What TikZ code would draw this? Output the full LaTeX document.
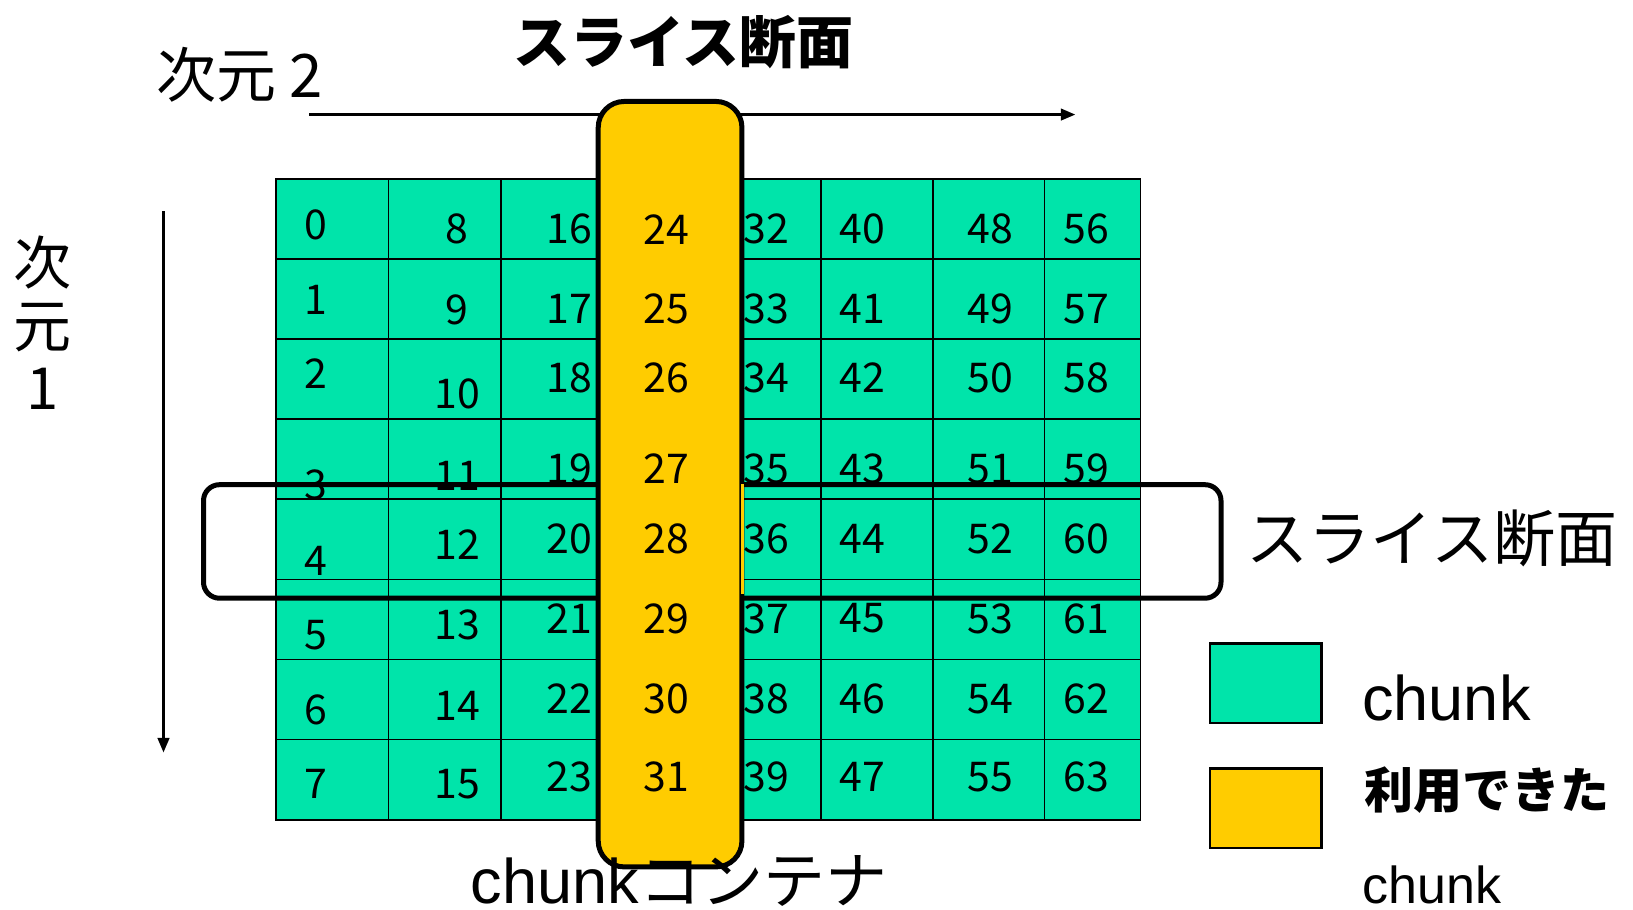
\documentclass[tikz,border=0pt]{standalone}
\usepackage{fontspec}
\setmainfont{Liberation Sans}
\newfontfamily\jp{Noto Sans CJK JP}
\usetikzlibrary{arrows.meta}
\definecolor{chunkgreen}{RGB}{0,228,170}
\definecolor{chunkyellow}{RGB}{255,204,0}
\begin{document}
\begin{tikzpicture}[x=1.0415pt,y=-1.0415pt,
  cellbox/.style={draw=black, line width=1.8pt, fill=chunkgreen, inner sep=0pt, outer sep=0pt},
  num/.style={font=\jp\fontsize{41}{41}\selectfont, inner sep=0pt},
  axisline/.style={line width=3.8pt, -{Triangle[length=15pt,width=11pt]}},
  heavybox/.style={draw=black, line width=5pt},
  legendbox/.style={draw=black, line width=2.5pt, inner sep=0pt, outer sep=0pt}]
\useasboundingbox (0,0) rectangle (1568,873);

% axis 2 (horizontal)
\coordinate (h1) at (297,110);
\coordinate (h2) at (1033,110);
\draw[axisline] (h1) -- (h2);
% axis 1 (vertical)
\coordinate (v1) at (157,203);
\coordinate (v2) at (157,723);
\draw[axisline] (v1) -- (v2);

% grid of chunks
\foreach \c/\xa/\xb in {0/265/373,1/373/481,2/481/589,3/589/690,4/690/788,5/788/896,6/896/1003,7/1003/1095}{
  \foreach \r in {0,...,7}{
    \pgfmathsetmacro\ya{172+\r*76.875}
    \pgfmathtruncatemacro\k{\c*8+\r}
    \node[cellbox, minimum width={(\xb-\xa)*1.0415pt}, minimum height={76.875*1.0415pt}, anchor=north west]
      (cell\k) at (\xa,\ya) {};
  }
}

% numbers (all columns except the yellow one)
\foreach \r/\ya/\yb/\yc in {0/216/220/220,1/288/298/297,2/359/378/363,3/466/457/450,4/539/523/517,5/610/600/594,6/682/678/671,7/753/753/746}{
  \node[num] (n\r) at (303,\ya) {\r};
  \pgfmathtruncatemacro\kb{8+\r}
  \node[num] (n\kb) at (439,\yb) {\kb};
  \foreach \c/\cx in {2/547,4/736,5/828,6/951,7/1043}{
    \pgfmathtruncatemacro\k{\c*8+\r}
    \node[num] (n\k) at (\cx,\yc) {\k};
  }
}

% slice box (dimension 1 slice)
\node[heavybox, rounded corners=16pt, minimum width={977*1.0415pt}, minimum height={109*1.0415pt}, inner sep=0pt, anchor=north west]
  (slice1) at (193,463) {};

% yellow chunk container (slice along dimension 2)
\node[heavybox, fill=chunkyellow, rounded corners=26pt, minimum width={138*1.0415pt}, minimum height={735*1.0415pt}, inner sep=0pt, anchor=north west]
  (slice2) at (572,95) {};
\node[fill=chunkyellow, inner sep=0pt, minimum width={3.5*1.0415pt}, minimum height={105*1.0415pt}, anchor=north west]
  (sliver) at (711,465) {};

\foreach \r/\yc in {0/220,1/297,2/363,3/450,4/517,5/594,6/671,7/746}{
  \pgfmathtruncatemacro\k{24+\r}
  \node[num] (n\k) at (640,\yc) {\k};
}

% labels
\node[font=\jp\fontsize{60}{60}\selectfont, inner sep=0pt] (dim2) at (230,72) {次元 2};
\node[font=\jp\bfseries\fontsize{57}{57}\selectfont, inner sep=0pt] (toplabel) at (656,40) {スライス断面};
\node[font=\jp\fontsize{58}{62.5}\selectfont, align=center, inner sep=0pt] (dim1) at (41,310) {次\\元\\1};
\node[font=\jp\fontsize{62}{62}\selectfont, inner sep=0pt] (rightlabel) at (1375,517) {スライス断面};

% legend
\node[legendbox, fill=chunkgreen, minimum width={107*1.0415pt}, minimum height={76*1.0415pt}, anchor=north west] (leg1) at (1162,618) {};
\node[legendbox, fill=chunkyellow, minimum width={107*1.0415pt}, minimum height={76*1.0415pt}, anchor=north west] (leg2) at (1162,738) {};
\node[font=\fontsize{63}{63}\selectfont, inner sep=0pt, anchor=base west] (legtext1) at (1308,692) {chunk};
\node[font=\jp\bfseries\fontsize{49}{49}\selectfont, inner sep=0pt] (legtext2) at (1428,759) {利用できた};
\node[font=\fontsize{52}{52}\selectfont, inner sep=0pt, anchor=base west] (legtext3) at (1308,868) {chunk};

% bottom label
\node[font=\fontsize{63}{63}\selectfont, inner sep=0pt, anchor=base west] (bottom) at (452,868) {chunk{\jp\fontsize{62}{62}\selectfont コンテナ}};
\end{tikzpicture}
\end{document}
